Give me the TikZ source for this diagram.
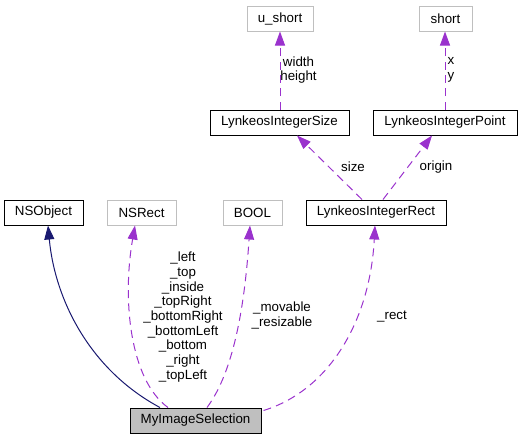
\documentclass[tikz,border=0pt]{standalone}
\usepackage{fontspec}
\setmainfont{Liberation Sans}
\usetikzlibrary{arrows.meta,calc}
\definecolor{edgenavy}{HTML}{191970}
\definecolor{edgepurple}{HTML}{9A32CD}
\definecolor{boxgray}{HTML}{BFBFBF}
\begin{document}
\begin{tikzpicture}[x=0.75pt,y=-0.75pt,
  every node/.style={font=\fontsize{10}{11}\selectfont, inner sep=0pt},
  cls/.style={draw=black, line width=0.75pt, minimum height=18.75pt, fill=white},
  ext/.style={draw=boxgray, line width=0.75pt, minimum height=18.75pt, fill=white},
  focus/.style={draw=black, line width=0.75pt, minimum height=18.75pt, fill=boxgray},
  inh/.style={draw=edgenavy, line width=0.75pt, -{Triangle[length=10.5pt,width=7.5pt]}},
  use/.style={draw=edgepurple, line width=0.75pt, dash pattern=on 6pt off 4pt, -{Triangle[length=10.5pt,width=7.5pt]}},
  lbl/.style={align=center}
]
\useasboundingbox (0,0) rectangle (523,440);
% nodes
\node[cls,  minimum width=59.25pt]  (nsobject) at (43.5,212.5) {NSObject};
\node[ext,  minimum width=51.75pt]  (nsrect)   at (141.5,212.5) {NSRect};
\node[ext,  minimum width=44.25pt]  (bool)     at (252.5,212.5) {BOOL};
\node[cls,  minimum width=105pt]    (lirect)   at (376,212.5) {LynkeosIntegerRect};
\node[focus,minimum width=98.25pt]  (mis)      at (195.5,420.5) {MyImageSelection};
\node[cls,  minimum width=104.25pt] (lisize)   at (279.5,122.5) {LynkeosIntegerSize};
\node[cls,  minimum width=108pt]    (lipoint)  at (445,122.5) {LynkeosIntegerPoint};
\node[ext,  minimum width=49.5pt]   (ushort)   at (280,18.5) {u\_short};
\node[ext,  minimum width=39.75pt]  (short)    at (445.5,18.5) {short};
% edges
\draw[inh] ($(mis.north)+(-35.5,0)$) .. controls (90,370) and (55,300) .. ($(nsobject.south)+(4.5,0)$);
\draw[use] ($(mis.north)+(-27.5,0)$) .. controls (130,380) and (122,300) .. ($(nsrect.south)+(-6.5,0)$);
\draw[use] ($(mis.north)+(11.5,0)$) .. controls (235,370) and (245,300) .. ($(bool.south)+(-2.5,0)$);
\draw[use] ($(mis.north east)+(2,3)$) .. controls (330,390) and (370,320) .. ($(lirect.south)+(-1,0)$);
\draw[use] ($(lirect.north)+(-14,0)$) -- ($(lisize.south)+(17.5,0)$);
\draw[use] ($(lirect.north)+(7,0)$) -- ($(lipoint.south)+(-13,0)$);
\draw[use] ($(lisize.north)+(0.5,0)$) -- (ushort.south);
\draw[use] (lipoint.north) -- ($(short.south)+(-0.5,0)$);
% labels
\node[lbl] (lrect) at (183,317) {\_left\\\_top\\\_inside\\\_topRight\\\_bottomRight\\\_bottomLeft\\\_bottom\\\_right\\\_topLeft};
\node[lbl] (lbool) at (282,315.5) {\_movable\\\_resizable};
\node[lbl] (lr)    at (392,317) {\_rect};
\node[lbl] (lsize) at (353,167) {size};
\node[lbl] (lorig) at (436,167) {origin};
\node[lbl] (lwh)   at (298.5,70) {width\\height};
\node[lbl] (lxy)   at (451,70) {x\\y};
\end{tikzpicture}
\end{document}
